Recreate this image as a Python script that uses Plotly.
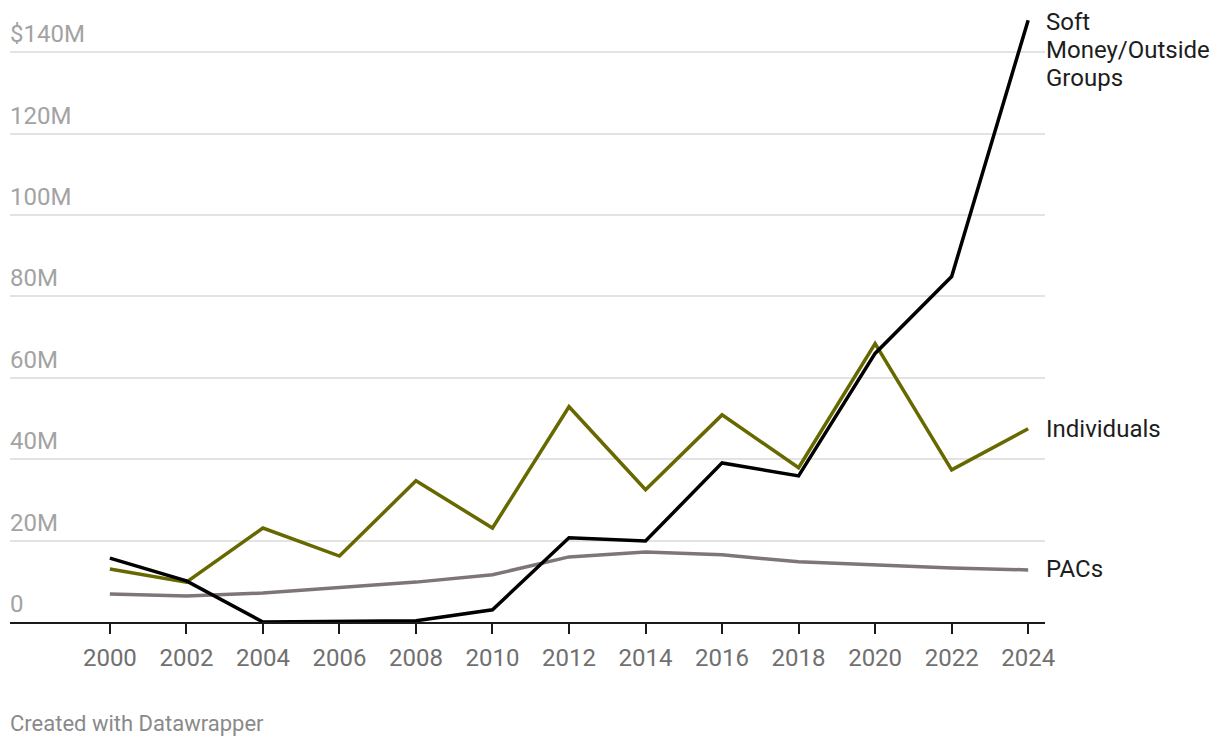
import plotly.graph_objects as go

years = [2000, 2002, 2004, 2006, 2008, 2010, 2012, 2014, 2016, 2018, 2020, 2022, 2024]
soft_money = [15.7, 10.1, 0.0, 0.2, 0.3, 3.0, 20.7, 19.9, 39.1, 35.9, 66.0, 84.9, 147.9]
individuals = [13.0, 9.8, 23.1, 16.2, 34.7, 23.1, 52.9, 32.5, 50.9, 37.9, 68.4, 37.4, 47.5]
pacs = [6.9, 6.4, 7.1, 8.4, 9.8, 11.6, 16.0, 17.2, 16.5, 14.8, 14.0, 13.3, 12.8]

y_ticks = [0, 20, 40, 60, 80, 100, 120, 140]
y_tick_labels = ["0", "20M", "40M", "60M", "80M", "100M", "120M", "$140M"]

series = [
    ("PACs", pacs, "#7e7577", ["PACs"], 1),
    ("Individuals", individuals, "#686800", ["Individuals"], 0),
    ("Soft Money/Outside Groups", soft_money, "#000000", ["Soft", "Money/Outside", "Groups"], -2),
]

FONT = "Roboto, Arial, sans-serif"
fig = go.Figure()
annotations = []
for name, vals, color, label_lines, yshift in series:
    fig.add_trace(go.Scatter(x=years, y=vals, mode="lines", name=name,
                             line=dict(color=color, width=3.5), hoverinfo="skip"))
    for i, line_text in enumerate(label_lines):
        annotations.append(dict(x=years[-1], y=vals[-1], xref="x", yref="y", text=line_text,
                                showarrow=False, xanchor="left", yanchor="middle",
                                xshift=16, yshift=yshift - 28 * i, align="left",
                                font=dict(family=FONT, size=24, color="#1d1d1d")))

for v, t in zip(y_ticks, y_tick_labels):
    annotations.append(dict(x=0, y=v, xref="paper", yref="y", text=t, showarrow=False,
                            xanchor="left", yanchor="bottom", yshift=2, xshift=-2,
                            font=dict(family=FONT, size=24, color="#a3a3a3")))

annotations.append(dict(x=0, y=0, xref="paper", yref="paper", text="Created with Datawrapper",
                        showarrow=False, xanchor="left", yanchor="middle", xshift=-2, yshift=-101,
                        font=dict(family=FONT, size=22, color="#8a8a8a")))

fig.update_layout(
    width=1220, height=748,
    margin=dict(l=2, r=183, t=2, b=134),
    paper_bgcolor="white", plot_bgcolor="white",
    showlegend=False,
    annotations=annotations,
    xaxis=dict(range=[1997.39, 2024.44], tickvals=years, ticktext=[str(y) for y in years],
               showgrid=False, zeroline=False, showline=True, linecolor="#1a1a1a", linewidth=2,
               ticks="outside", ticklen=10, tickwidth=2, tickcolor="#1a1a1a",
               ticklabelstandoff=3,
               tickfont=dict(family=FONT, size=24, color="#707070")),
    yaxis=dict(range=[0, 150.4], tickvals=y_ticks, showticklabels=False,
               showgrid=True, gridcolor="#e3e3e3", gridwidth=1.5, zeroline=False),
)

fig.write_html("out.html")
